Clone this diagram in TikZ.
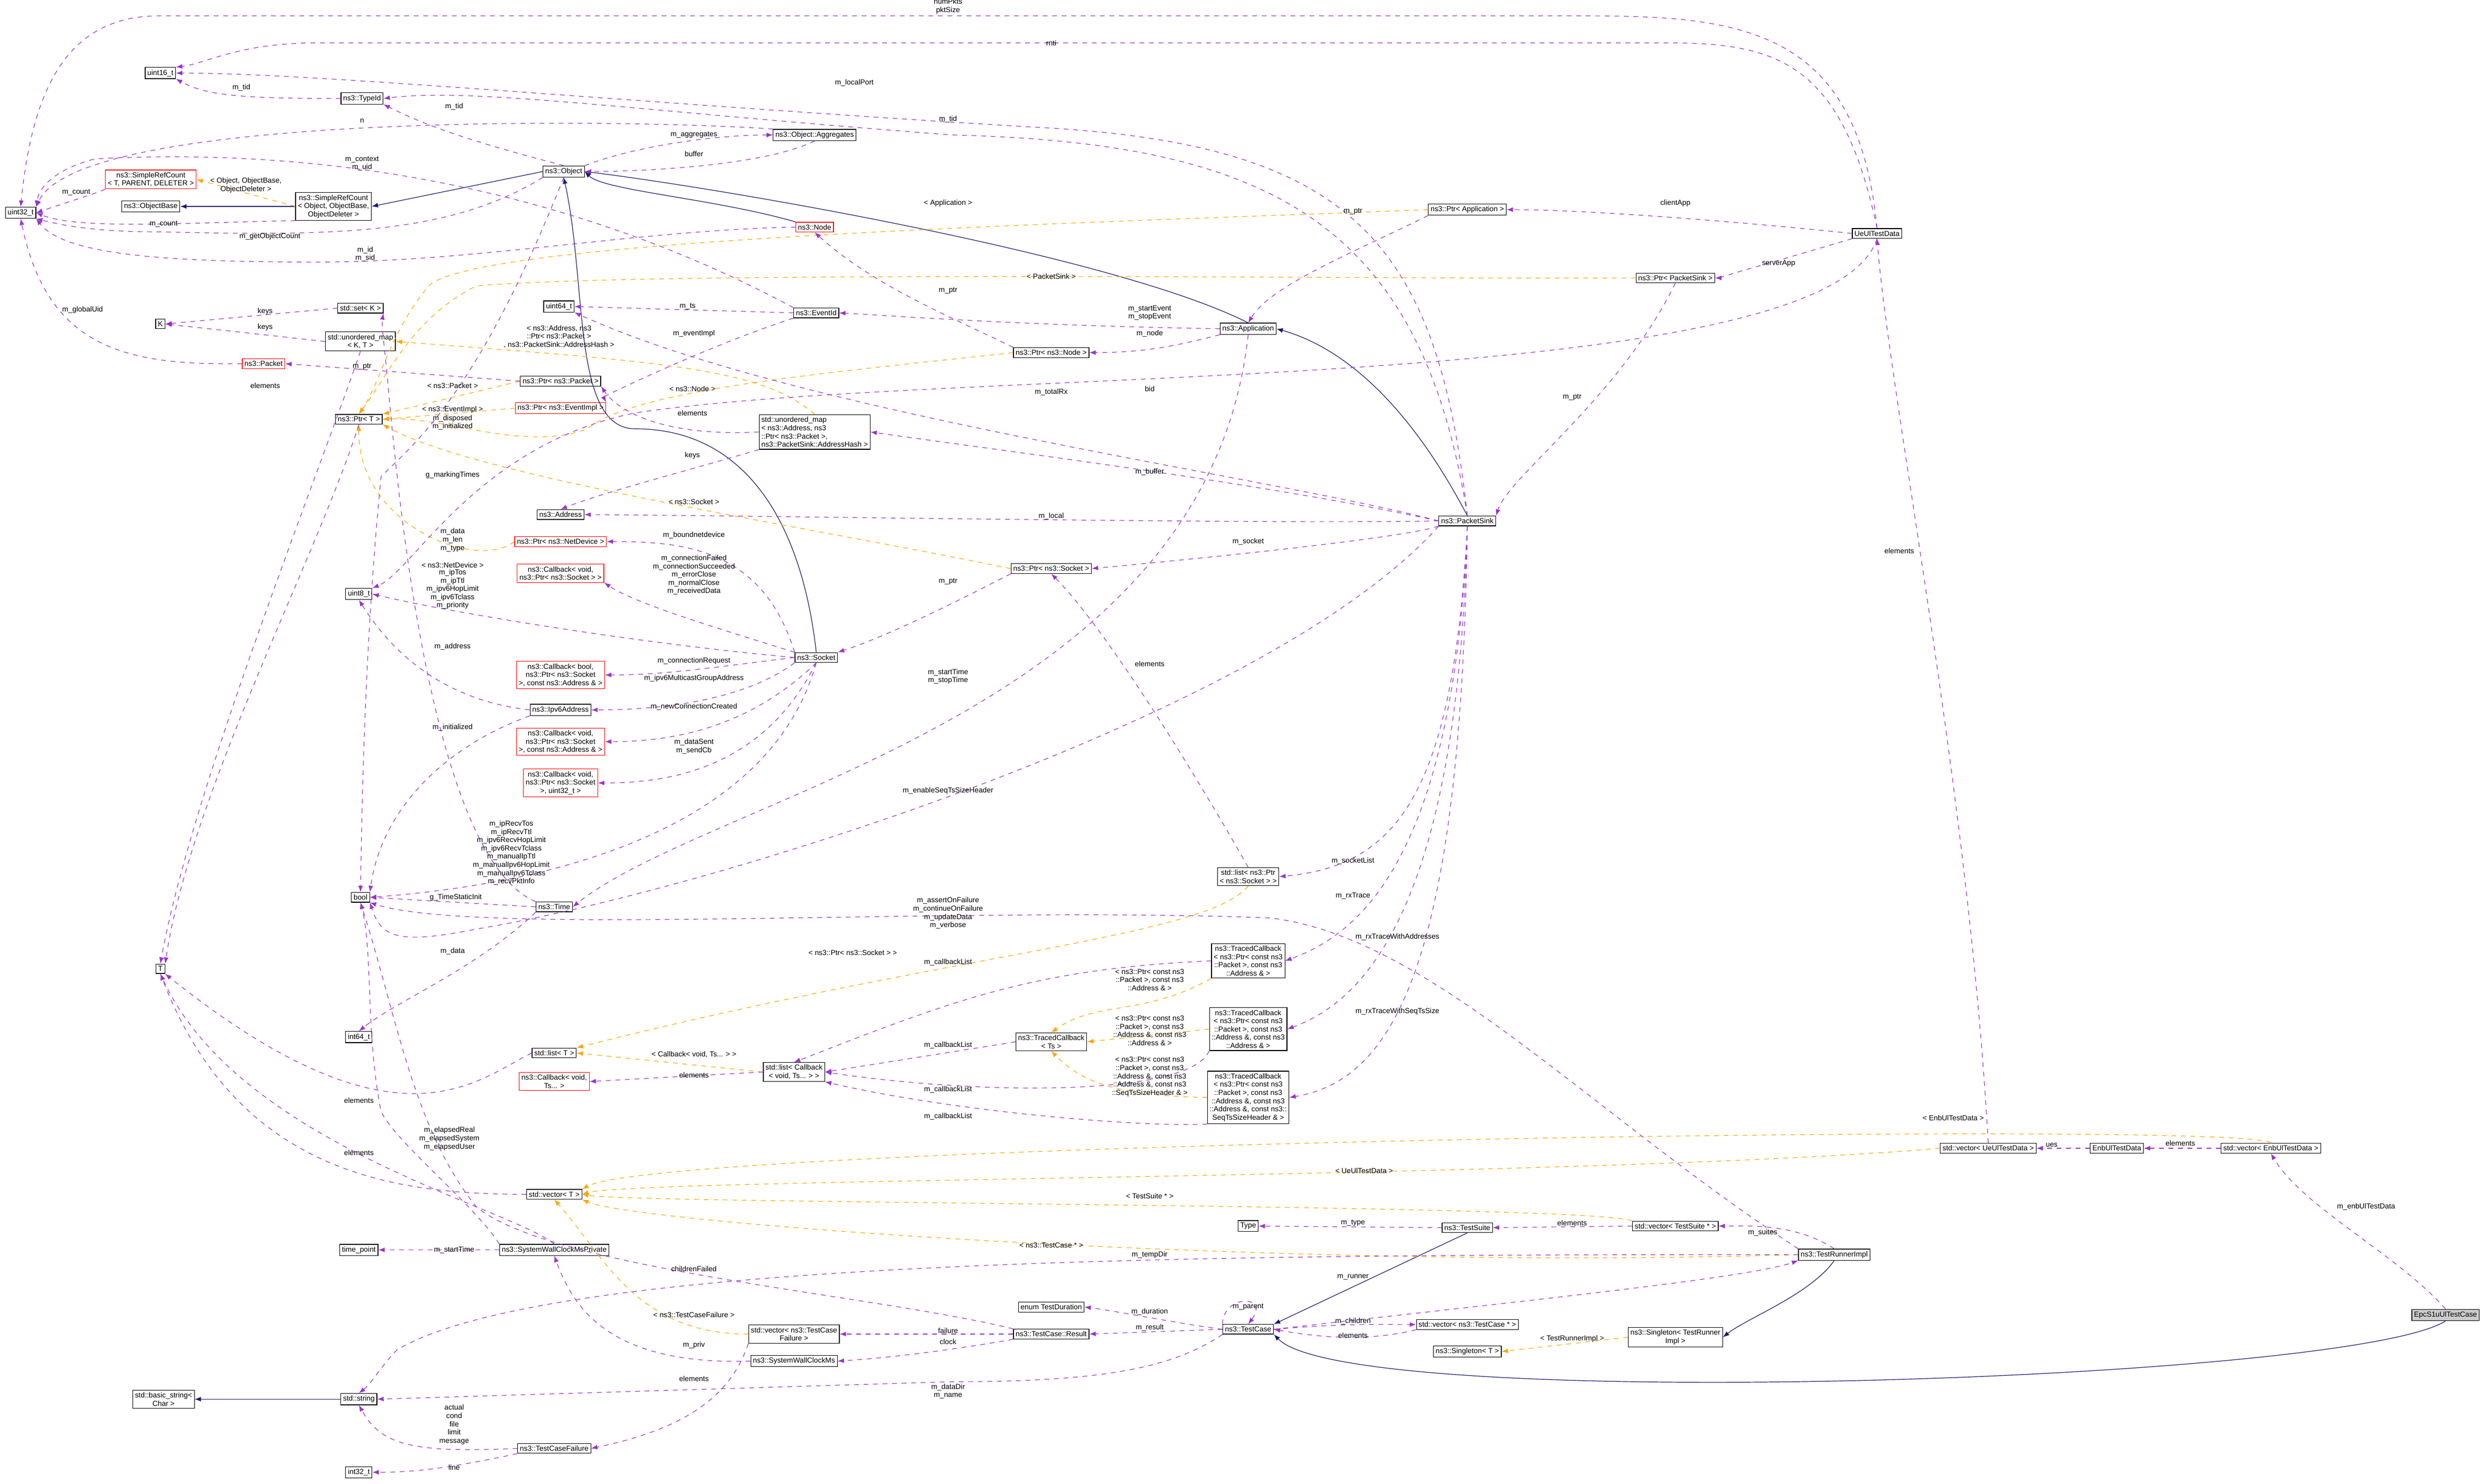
\documentclass[tikz,border=0pt]{standalone}
\usepackage{fontspec}
\setmainfont{Liberation Sans}
\usetikzlibrary{arrows.meta}
\definecolor{mem}{RGB}{154,50,205}
\definecolor{tpl}{RGB}{255,165,0}
\definecolor{inh}{RGB}{25,25,112}
\tikzset{
 bx/.style={draw=black,fill=white,font=\fontsize{4.6}{5.2}\selectfont,inner sep=1.4pt,align=center},
 rbx/.style={bx,draw=red},
 gbx/.style={bx,fill=black!20},
 lb/.style={font=\fontsize{4.6}{5.2}\selectfont,inner sep=0pt,align=center},
 mm/.style={draw=mem,dashed,thin,-{Latex[length=4pt,width=3pt]}},
 tp/.style={draw=tpl,dashed,thin,-{Latex[length=4pt,width=3pt]}},
 ih/.style={draw=inh,thin,-{Latex[length=4pt,width=3pt]}}
}
\begin{document}
\begin{tikzpicture}[x=1pt,y=-1pt]
\path[use as bounding box,fill=white] (0,0) rectangle (1568,934.4);
% nodes
\node[bx] (u16) at (101,46) {uint16\_t};
\node[bx] (tid) at (228,62) {ns3::TypeId};
\node[bx] (u32) at (13,134) {uint32\_t};
\node[rbx] (srcT) at (95,113) {ns3::SimpleRefCount\\< T, PARENT, DELETER >};
\node[bx] (ob) at (95,130) {ns3::ObjectBase};
\node[bx] (srcO) at (210,130) {ns3::SimpleRefCount\\< Object, ObjectBase,\\ ObjectDeleter >};
\node[bx] (obj) at (355,108) {ns3::Object};
\node[bx] (agg) at (513,85) {ns3::Object::Aggregates};
\node[rbx] (node) at (513,143) {ns3::Node};
\node[bx] (set) at (227,194) {std::set< K >};
\node[bx] (K) at (101,204) {K};
\node[bx] (umKT) at (227,215) {std::unordered\_map\\< K, T >};
\node[rbx] (pkt) at (166,229) {ns3::Packet};
\node[bx] (ptrT) at (226,264) {ns3::Ptr< T >};
\node[bx] (u64) at (352,193) {uint64\_t};
\node[bx] (eid) at (514,197) {ns3::EventId};
\node[bx] (ppkt) at (353,240) {ns3::Ptr< ns3::Packet >};
\node[rbx] (pev) at (353,257) {ns3::Ptr< ns3::EventImpl >};
\node[bx,align=left] (umA) at (513,272) {std::unordered\_map\\< ns3::Address, ns3\\::Ptr< ns3::Packet >,\\ ns3::PacketSink::AddressHash >};
\node[bx] (addr) at (353,324) {ns3::Address};
\node[rbx] (pnd) at (353,341) {ns3::Ptr< ns3::NetDevice >};
\node[rbx] (cb1) at (353,361) {ns3::Callback< void,\\ ns3::Ptr< ns3::Socket > >};
\node[bx] (u8) at (226,374) {uint8\_t};
\node[bx] (sock) at (514,414) {ns3::Socket};
\node[rbx] (cb2) at (353,425) {ns3::Callback< bool,\\ ns3::Ptr< ns3::Socket\\ >, const ns3::Address \& >};
\node[bx] (ip6) at (353,447) {ns3::Ipv6Address};
\node[rbx] (cb3) at (353,467) {ns3::Callback< void,\\ ns3::Ptr< ns3::Socket\\ >, const ns3::Address \& >};
\node[rbx] (cb4) at (353,493) {ns3::Callback< void,\\ ns3::Ptr< ns3::Socket\\ >, uint32\_t >};
\node[bx] (bool) at (227,565) {bool};
\node[bx] (time) at (349,571) {ns3::Time};
\node[bx] (T) at (101,610) {T};
\node[bx] (i64) at (226,653) {int64\_t};
\node[bx] (lT) at (349,663) {std::list< T >};
\node[rbx] (cbv) at (349,681) {ns3::Callback< void,\\ Ts... >};
\node[bx] (lcb) at (500,675) {std::list< Callback\\< void, Ts... > >};
\node[bx] (tcT) at (662,656) {ns3::TracedCallback\\< Ts >};
\node[bx] (tc1) at (786,605) {ns3::TracedCallback\\< ns3::Ptr< const ns3\\::Packet >, const ns3\\::Address \& >};
\node[bx] (tc2) at (786,648) {ns3::TracedCallback\\< ns3::Ptr< const ns3\\::Packet >, const ns3\\::Address \&, const ns3\\::Address \& >};
\node[bx] (tc3) at (786,691) {ns3::TracedCallback\\< ns3::Ptr< const ns3\\::Packet >, const ns3\\::Address \&, const ns3\\::Address \&, const ns3::\\SeqTsSizeHeader \& >};
\node[bx] (lps) at (786,552) {std::list< ns3::Ptr\\< ns3::Socket > >};
\node[bx] (vT) at (349,752) {std::vector< T >};
\node[bx] (tp) at (226,787) {time\_point};
\node[bx] (swp) at (349,787) {ns3::SystemWallClockMsPrivate};
\node[bx] (dur) at (662,823) {enum TestDuration};
\node[bx] (res) at (662,840) {ns3::TestCase::Result};
\node[bx] (vtcf) at (500,840) {std::vector< ns3::TestCase\\Failure >};
\node[bx] (sw) at (500,857) {ns3::SystemWallClockMs};
\node[bx] (tc) at (786,837) {ns3::TestCase};
\node[bx] (bs) at (103,881) {std::basic\_string<\\ Char >};
\node[bx] (str) at (226,881) {std::string};
\node[bx] (tcf) at (349,912) {ns3::TestCaseFailure};
\node[bx] (i32) at (226,927) {int32\_t};
\node[bx] (type) at (786,772) {Type};
\node[bx] (ts) at (924,773) {ns3::TestSuite};
\node[bx] (vts) at (1055,772) {std::vector< TestSuite * >};
\node[bx] (tri) at (1155,790) {ns3::TestRunnerImpl};
\node[bx] (vtc) at (924,834) {std::vector< ns3::TestCase * >};
\node[bx] (sgT) at (924,851) {ns3::Singleton< T >};
\node[bx] (sgR) at (1055,842) {ns3::Singleton< TestRunner\\Impl >};
\node[gbx] (epc) at (1540,828) {EpcS1uUlTestCase};
\node[bx] (venb) at (1430,723) {std::vector< EnbUlTestData >};
\node[bx] (enb) at (1333,723) {EnbUlTestData};
\node[bx] (vue) at (1252,723) {std::vector< UeUlTestData >};
\node[bx] (ue) at (1182,147) {UeUlTestData};
\node[bx] (papp) at (924,132) {ns3::Ptr< Application >};
\node[bx] (pps) at (1055,175) {ns3::Ptr< PacketSink >};
\node[bx] (app) at (786,207) {ns3::Application};
\node[bx] (pnode) at (662,222) {ns3::Ptr< ns3::Node >};
\node[bx] (ps) at (924,328) {ns3::PacketSink};
\node[bx] (psock) at (662,358) {ns3::Ptr< ns3::Socket >};

% inheritance
\draw[ih] (srcO) -- (ob);
\draw[ih] (obj.west) -- (srcO.east);
\draw[ih] (node.north west) .. controls (450,125) and (380,120) .. (obj.east);
\draw[ih] (app.north) .. controls (700,160) and (450,118) .. (obj.east);
\draw[ih] (sock.north) .. controls (505,330) and (470,270) .. (400,270) .. controls (360,270) and (370,180) .. (obj.south);
\draw[ih] (ps.north) .. controls (890,260) and (850,220) .. (app.east);
\draw[ih] (ts.south) -- (tc.north east);
\draw[ih] (epc.south) .. controls (1480,870) and (850,890) .. (tc.south east);
\draw[ih] (tri.south) .. controls (1140,815) and (1100,830) .. (sgR.east);
\draw[ih] (str) -- (bs);

% template
\draw[tp] (srcO.west) -- node[lb,above,pos=.5] {< Object, ObjectBase,\\ ObjectDeleter >} (srcT.east);
\draw[tp] (papp.west) .. controls (700,140) and (300,150) .. (270,180) .. controls (245,210) and (240,240) .. (ptrT.north);
\draw[tp] (pps.west) .. controls (900,176) and (420,170) .. (300,180) .. controls (260,200) and (245,235) .. (ptrT.north);
\draw[tp] (umA.north) .. controls (480,232) and (420,228) .. (umKT.east);
\draw[tp] (ppkt.west) -- (ptrT.north east);
\draw[tp] (pev.west) -- (ptrT.east);
\draw[tp] (pnode.west) .. controls (520,235) and (400,245) .. (370,270) .. controls (330,285) and (280,262) .. (ptrT.east);
\draw[tp] (psock.west) .. controls (500,330) and (300,300) .. (ptrT.south east);
\draw[tp] (pnd.west) .. controls (300,360) and (225,330) .. (ptrT.south);
\draw[tp] (lps.south) .. controls (760,590) and (600,600) .. (lT.north east);
\draw[tp] (lcb.west) -- (lT.east);
\draw[tp] (tc1.south west) .. controls (720,640) and (690,630) .. (tcT.north);
\draw[tp] (tc2.west) -- (tcT.east);
\draw[tp] (tc3.west) .. controls (700,690) and (680,680) .. (tcT.south);
\draw[tp] (venb.north) .. controls (1420,705) and (420,720) .. (vT.north east);
\draw[tp] (vue.west) .. controls (1000,742) and (400,742) .. (vT.east);
\draw[tp] (vts.north west) .. controls (1000,758) and (400,758) .. (vT.east);
\draw[tp] (tri.west) .. controls (800,800) and (400,770) .. (vT.south east);
\draw[tp] (vtcf.west) .. controls (400,840) and (380,790) .. (vT.south);
\draw[tp] (sgR.west) -- (sgT.east);

% members
\draw[mm] (ue.north) .. controls (1170,20) and (1100,10) .. (1000,10) -- (100,10) .. controls (40,10) and (20,60) .. (u32.north);
\draw[mm] (ue.north) .. controls (1160,40) and (1120,27) .. (1050,27) -- (200,27) .. controls (150,27) and (130,40) .. (u16.north east);
\draw[mm] (ps.north) .. controls (905,150) and (850,90) .. (650,80) .. controls (400,65) and (200,46) .. (u16.east);
\draw[mm] (tid.west) .. controls (150,62) and (130,60) .. (u16.south east);
\draw[mm] (ps.north) .. controls (895,140) and (800,90) .. (600,85) .. controls (400,70) and (300,55) .. (tid.east);
\draw[mm] (obj.north) .. controls (300,90) and (270,80) .. (tid.south east);
\draw[mm] (agg.north west) .. controls (400,75) and (50,70) .. (u32.north east);
\draw[mm] (obj.north east) .. controls (400,92) and (450,85) .. (agg.west);
\draw[mm] (agg.south) .. controls (480,105) and (400,108) .. (obj.east);
\draw[mm] (srcT.south west) .. controls (60,122) and (40,128) .. (u32.east);
\draw[mm] (srcO.south west) .. controls (120,140) and (50,145) .. (u32.east);
\draw[mm] (obj.south west) .. controls (280,150) and (200,148) .. (100,146) .. controls (60,146) and (40,142) .. (u32.south east);
\draw[mm] (node.west) .. controls (400,145) and (300,165) .. (200,165) .. controls (100,165) and (40,160) .. (u32.south east);
\draw[mm] (eid.north west) .. controls (400,140) and (250,90) .. (60,100) .. controls (40,105) and (25,115) .. (u32.north east);
\draw[mm] (pkt.west) .. controls (80,230) and (30,220) .. (u32.south);
\draw[mm] (set.west) -- (K.east);
\draw[mm] (umKT.west) -- (K.east);
\draw[mm] (ppkt.west) -- (pkt.east);
\draw[mm] (eid.west) -- (u64.east);
\draw[mm] (eid.south west) .. controls (440,220) and (380,250) .. (pev.north east);
\draw[mm] (app.west) .. controls (650,205) and (580,200) .. (eid.east);
\draw[mm] (pnode.north west) .. controls (600,200) and (550,180) .. (node.south);
\draw[mm] (app.south west) .. controls (740,218) and (720,222) .. (pnode.east);
\draw[mm] (ps.west) .. controls (800,300) and (500,260) .. (u64.south east);
\draw[mm] (umA.west) .. controls (420,275) and (390,260) .. (ppkt.south east);
\draw[mm] (umA.south west) .. controls (420,300) and (380,310) .. (addr.north);
\draw[mm] (ps.west) .. controls (800,305) and (640,285) .. (umA.east);
\draw[mm] (ps.west) .. controls (800,330) and (500,325) .. (addr.east);
\draw[mm] (sock.north west) .. controls (480,345) and (430,341) .. (pnd.east);
\draw[mm] (sock.north west) .. controls (450,395) and (400,380) .. (cb1.south east);
\draw[mm] (sock.west) .. controls (400,405) and (280,385) .. (u8.east);
\draw[mm] (sock.west) .. controls (450,420) and (420,425) .. (cb2.east);
\draw[mm] (sock.south west) .. controls (470,440) and (420,447) .. (ip6.east);
\draw[mm] (sock.south) .. controls (470,460) and (420,467) .. (cb3.east);
\draw[mm] (sock.south) .. controls (480,485) and (420,493) .. (cb4.east);
\draw[mm] (sock.south) .. controls (480,540) and (300,560) .. (bool.east);
\draw[mm] (ip6.west) .. controls (270,440) and (240,400) .. (u8.south);
\draw[mm] (psock.south west) .. controls (600,380) and (560,400) .. (sock.north east);
\draw[mm] (ps.south west) .. controls (880,340) and (720,355) .. (psock.east);
\draw[mm] (app.south) .. controls (760,450) and (450,500) .. (time.east);
\draw[mm] (ps.south west) .. controls (800,450) and (450,560) .. (300,585) .. controls (250,595) and (240,590) .. (bool.south east);
\draw[mm] (ps.south) .. controls (915,500) and (880,545) .. (lps.east);
\draw[mm] (ps.south) .. controls (915,550) and (850,590) .. (tc1.east);
\draw[mm] (ps.south) .. controls (918,570) and (860,630) .. (tc2.east);
\draw[mm] (ps.south) .. controls (920,600) and (880,680) .. (tc3.east);
\draw[mm] (tc1.west) .. controls (650,610) and (600,630) .. (lcb.north);
\draw[mm] (tcT.west) -- (lcb.east);
\draw[mm] (tc2.south west) .. controls (750,690) and (620,690) .. (lcb.east);
\draw[mm] (tc3.south west) .. controls (720,710) and (600,700) .. (lcb.south east);
\draw[mm] (lcb.west) -- (cbv.east);
\draw[mm] (lps.north) .. controls (760,500) and (700,400) .. (psock.south);
\draw[mm] (time.south west) .. controls (300,610) and (250,630) .. (i64.north);
\draw[mm] (time.west) -- (bool.east);
\draw[mm] (time.north west) .. controls (270,540) and (250,300) .. (245,250) .. controls (243,225) and (240,205) .. (set.south east);
\draw[mm] (obj.south) .. controls (300,250) and (260,280) .. (240,300) .. controls (230,400) and (228,500) .. (bool.north);
\draw[mm] (ip6.south west) .. controls (280,470) and (240,510) .. (bool.north east);
\draw[mm] (lT.west) .. controls (300,680) and (250,730) .. (T.south east);
\draw[mm] (vT.west) .. controls (250,752) and (150,740) .. (T.south);
\draw[mm] (umKT.south) .. controls (200,300) and (120,500) .. (T.north);
\draw[mm] (ptrT.south) .. controls (200,350) and (120,500) .. (T.north east);
\draw[mm] (ue.south) .. controls (1150,250) and (600,230) .. (400,260) .. controls (300,280) and (260,360) .. (u8.north east);
\draw[mm] (ue.west) .. controls (1100,140) and (1000,132) .. (papp.east);
\draw[mm] (ue.south west) .. controls (1100,170) and (1080,175) .. (pps.east);
\draw[mm] (papp.south west) .. controls (850,160) and (800,180) .. (app.north);
\draw[mm] (pps.south) .. controls (1020,250) and (950,300) .. (ps.north east);
\draw[mm] (vue.north) .. controls (1240,500) and (1190,250) .. (ue.south);
\draw[mm] (enb.west) -- (vue.east);
\draw[mm] (venb.west) -- (enb.east);
\draw[mm] (epc.north) .. controls (1510,790) and (1450,760) .. (venb.south);
\draw[mm] (ts.west) -- (type.east);
\draw[mm] (vts.west) -- (ts.east);
\draw[mm] (tri.north) .. controls (1130,770) and (1100,772) .. (vts.east);
\draw[mm] (tri.north west) .. controls (1000,700) and (900,590) .. (800,578) .. controls (600,570) and (300,590) .. (bool.south east);
\draw[mm] (tri.west) .. controls (800,790) and (350,790) .. (250,850) .. controls (240,860) and (235,870) .. (str.north);
\draw[mm] (tc.east) .. controls (950,820) and (1100,805) .. (tri.south west);
\draw[mm] (tc.north west) .. controls (770,815) and (800,815) .. (tc.north);
\draw[mm] (tc.east) .. controls (850,833) and (870,834) .. (vtc.west);
\draw[mm] (vtc.south west) .. controls (860,845) and (830,842) .. (tc.east);
\draw[mm] (tc.west) .. controls (740,833) and (700,825) .. (dur.east);
\draw[mm] (tc.west) -- (res.east);
\draw[mm] (res.west) -- (vtcf.east);
\draw[mm] (res.south west) .. controls (600,850) and (560,855) .. (sw.east);
\draw[mm] (res.north west) .. controls (550,815) and (350,800) .. (300,760) .. controls (260,710) and (250,640) .. (bool.south);
\draw[mm] (sw.west) .. controls (380,860) and (360,820) .. (swp.south);
\draw[mm] (swp.west) -- (tp.east);
\draw[mm] (swp.north west) .. controls (300,760) and (250,720) .. (240,700) .. controls (230,650) and (235,600) .. (bool.south);
\draw[mm] (swp.north) .. controls (320,760) and (150,720) .. (T.south);
\draw[mm] (vtcf.south west) .. controls (460,880) and (430,900) .. (tcf.east);
\draw[mm] (tcf.west) .. controls (260,915) and (240,910) .. (str.south);
\draw[mm] (tcf.south west) .. controls (280,925) and (260,927) .. (i32.east);
\draw[mm] (tc.south west) .. controls (740,860) and (700,870) .. (600,870) -- (str.east);

% labels
\node[lb] (l1) at (597,4) {numPkts\\pktSize};
\node[lb] (l2) at (662,27) {rnti};
\node[lb] (l3) at (538,52) {m\_localPort};
\node[lb] (l4) at (597,75) {m\_tid};
\node[lb] (l5) at (152,55) {m\_tid};
\node[lb] (l6) at (286,67) {m\_tid};
\node[lb] (l7) at (228,76) {n};
\node[lb] (l8) at (437,85) {m\_aggregates};
\node[lb] (l9) at (437,97) {buffer};
\node[lb] (l10) at (48,121) {m\_count};
\node[lb] (l11) at (103,141) {m\_count};
\node[lb] (l12) at (170,149) {m\_getObjectCount};
\node[lb] (l13) at (230,160) {m\_id\\m\_sid};
\node[lb] (l14) at (228,103) {m\_context\\m\_uid};
\node[lb] (l15) at (52,195) {m\_globalUid};
\node[lb] (l16) at (167,196) {keys};
\node[lb] (l17) at (167,206) {keys};
\node[lb] (l18) at (228,231) {m\_ptr};
\node[lb] (l19) at (167,243) {elements};
\node[lb] (l20) at (433,193) {m\_ts};
\node[lb] (l21) at (437,210) {m\_eventImpl};
\node[lb] (l22) at (724,197) {m\_startEvent\\m\_stopEvent};
\node[lb] (l23) at (597,183) {m\_ptr};
\node[lb] (l24) at (724,210) {m\_node};
\node[lb] (l25) at (662,247) {m\_totalRx};
\node[lb] (l26) at (352,212) {< ns3::Address, ns3\\::Ptr< ns3::Packet >\\, ns3::PacketSink::AddressHash >};
\node[lb] (l27) at (285,243) {< ns3::Packet >};
\node[lb] (l28) at (285,258) {< ns3::EventImpl >};
\node[lb] (l29) at (285,266) {m\_disposed\\m\_initialized};
\node[lb] (l30) at (436,245) {< ns3::Node >};
\node[lb] (l31) at (436,260) {elements};
\node[lb] (l32) at (436,287) {keys};
\node[lb] (l33) at (285,299) {g\_markingTimes};
\node[lb] (l34) at (437,316) {< ns3::Socket >};
\node[lb] (l35) at (662,325) {m\_local};
\node[lb] (l36) at (724,297) {m\_buffer};
\node[lb] (l37) at (437,337) {m\_boundnetdevice};
\node[lb] (l38) at (437,362) {m\_connectionFailed\\m\_connectionSucceeded\\m\_errorClose\\m\_normalClose\\m\_receivedData};
\node[lb] (l39) at (285,371) {m\_ipTos\\m\_ipTtl\\m\_ipv6HopLimit\\m\_ipv6Tclass\\m\_priority};
\node[lb] (l40) at (285,356) {< ns3::NetDevice >};
\node[lb] (l41) at (285,340) {m\_data\\m\_len\\m\_type};
\node[lb] (l42) at (437,416) {m\_connectionRequest};
\node[lb] (l43) at (437,427) {m\_ipv6MulticastGroupAddress};
\node[lb] (l44) at (437,445) {m\_newConnectionCreated};
\node[lb] (l45) at (437,470) {m\_dataSent\\m\_sendCb};
\node[lb] (l46) at (285,407) {m\_address};
\node[lb] (l47) at (285,458) {m\_initialized};
\node[lb] (l48) at (322,537) {m\_ipRecvTos\\m\_ipRecvTtl\\m\_ipv6RecvHopLimit\\m\_ipv6RecvTclass\\m\_manualIpTtl\\m\_manualIpv6HopLimit\\m\_manualIpv6Tclass\\m\_recvPktInfo};
\node[lb] (l49) at (287,565) {g\_TimeStaticInit};
\node[lb] (l50) at (285,599) {m\_data};
\node[lb] (l51) at (597,366) {m\_ptr};
\node[lb] (l52) at (786,341) {m\_socket};
\node[lb] (l53) at (597,426) {m\_startTime\\m\_stopTime};
\node[lb] (l54) at (597,498) {m\_enableSeqTsSizeHeader};
\node[lb] (l55) at (724,418) {elements};
\node[lb] (l56) at (852,542) {m\_socketList};
\node[lb] (l57) at (852,564) {m\_rxTrace};
\node[lb] (l58) at (880,590) {m\_rxTraceWithAddresses};
\node[lb] (l59) at (880,637) {m\_rxTraceWithSeqTsSize};
\node[lb] (l60) at (597,575) {m\_assertOnFailure\\m\_continueOnFailure\\m\_updateData\\m\_verbose};
\node[lb] (l61) at (537,600) {< ns3::Ptr< ns3::Socket > >};
\node[lb] (l62) at (597,606) {m\_callbackList};
\node[lb] (l63) at (724,617) {< ns3::Ptr< const ns3\\::Packet >, const ns3\\::Address \& >};
\node[lb] (l64) at (724,649) {< ns3::Ptr< const ns3\\::Packet >, const ns3\\::Address \&, const ns3\\::Address \& >};
\node[lb] (l65) at (724,678) {< ns3::Ptr< const ns3\\::Packet >, const ns3\\::Address \&, const ns3\\::Address \&, const ns3\\::SeqTsSizeHeader \& >};
\node[lb] (l66) at (597,658) {m\_callbackList};
\node[lb] (l67) at (597,686) {m\_callbackList};
\node[lb] (l68) at (597,703) {m\_callbackList};
\node[lb] (l69) at (437,664) {< Callback< void, Ts... > >};
\node[lb] (l70) at (437,677) {elements};
\node[lb] (l71) at (226,693) {elements};
\node[lb] (l72) at (226,726) {elements};
\node[lb] (l73) at (283,717) {m\_elapsedReal\\m\_elapsedSystem\\m\_elapsedUser};
\node[lb] (l75) at (859,737) {< UeUlTestData >};
\node[lb] (l76) at (724,753) {< TestSuite * >};
\node[lb] (l77) at (662,784) {< ns3::TestCase * >};
\node[lb] (l78) at (724,790) {m\_tempDir};
\node[lb] (l79) at (437,799) {childrenFailed};
\node[lb] (l80) at (437,828) {< ns3::TestCaseFailure >};
\node[lb] (l81) at (286,787) {m\_startTime};
\node[lb] (l82) at (437,847) {m\_priv};
\node[lb] (l83) at (437,868) {elements};
\node[lb] (l84) at (597,838) {failure};
\node[lb] (l85) at (597,845) {clock};
\node[lb] (l86) at (724,826) {m\_duration};
\node[lb] (l87) at (724,836) {m\_result};
\node[lb] (l88) at (786,823) {m\_parent};
\node[lb] (l89) at (852,832) {m\_children};
\node[lb] (l90) at (852,841) {elements};
\node[lb] (l91) at (852,804) {m\_runner};
\node[lb] (l92) at (597,876) {m\_dataDir\\m\_name};
\node[lb] (l93) at (286,897) {actual\\cond\\file\\limit\\message};
\node[lb] (l94) at (286,924) {line};
\node[lb] (l95) at (852,770) {m\_type};
\node[lb] (l96) at (990,770) {elements};
\node[lb] (l97) at (1110,776) {m\_suites};
\node[lb] (l98) at (990,843) {< TestRunnerImpl >};
\node[lb] (l99) at (1292,721) {ues};
\node[lb] (l100) at (1373,720) {elements};
\node[lb] (l101) at (1490,760) {m\_enbUlTestData};
\node[lb] (l102) at (1196,347) {elements};
\node[lb] (l103) at (1055,128) {clientApp};
\node[lb] (l104) at (1120,166) {serverApp};
\node[lb] (l105) at (852,133) {m\_ptr};
\node[lb] (l106) at (990,250) {m\_ptr};
\node[lb] (l107) at (724,245) {bid};
\node[lb] (l108) at (597,128) {< Application >};
\node[lb] (l109) at (662,174) {< PacketSink >};
\node[lb] (l110) at (1230,704) {< EnbUlTestData >};
\end{tikzpicture}
\end{document}
